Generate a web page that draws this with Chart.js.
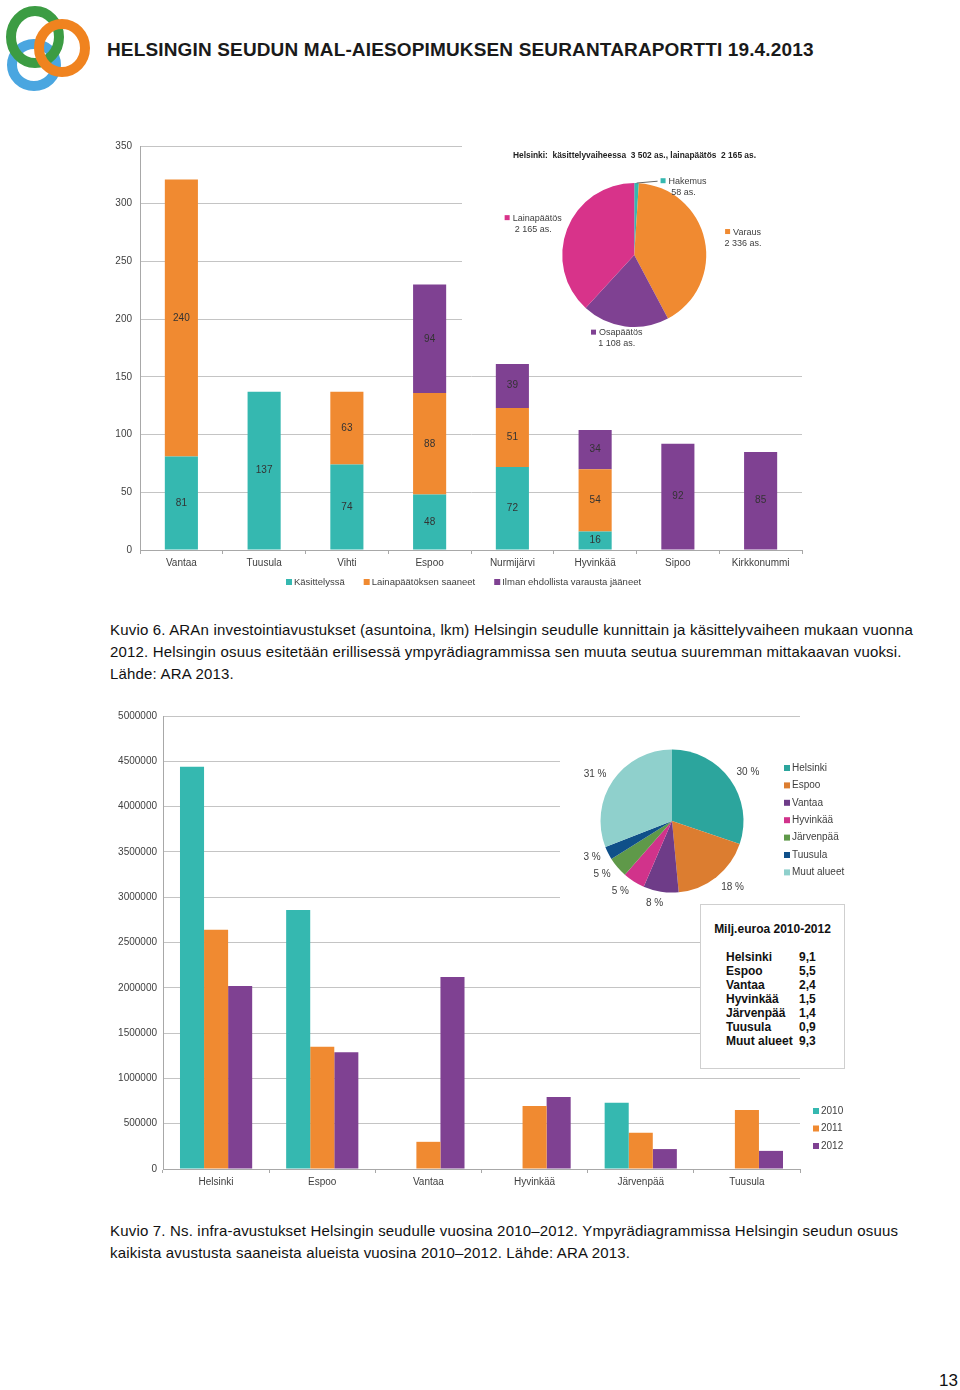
<!DOCTYPE html>
<html lang="fi">
<head>
<meta charset="UTF-8">
<title>MAL-seurantaraportti s. 13</title>
<script src="https://cdn.jsdelivr.net/npm/chart.js"></script>
<style>
  body { margin: 0; background: #fff; font-family: "Liberation Sans", Arial, sans-serif; color: #111; }
  #page { position: relative; width: 960px; height: 1390px; overflow: hidden; }
  .abs { position: absolute; }
  #header { left: 107px; top: 39px; font-size: 19px; letter-spacing: 0.15px; font-weight: bold; white-space: nowrap; color: #1a1a1a; }
  .caption { left: 110px; font-size: 15px; line-height: 22px; letter-spacing: 0.18px; white-space: nowrap; }
  .pieBox { background: #fff; }
  #pieTitle1 { left: 462px; width: 345px; top: 150px; text-align: center; font-size: 8.4px; font-weight: bold; white-space: pre; color: #222; }
  #sumBox { left: 700px; top: 904px; width: 143px; height: 163px; border: 1px solid #cfcfcf; background: #fff; font-weight: bold; font-size: 12px; color: #111; }
  #sumBox .title { text-align: center; margin-top: 17px; margin-bottom: 14px; }
  #sumBox table { margin-left: 25px; border-collapse: collapse; }
  #sumBox td { padding: 0; line-height: 14px; }
  #sumBox td:first-child { width: 73px; }
  #pageNo { left: 939px; top: 1371px; font-size: 17px; }
</style>
</head>
<body>
<div id="page">
  <svg class="abs" style="left:2px;top:2px" width="92" height="92" viewBox="0 0 92 92">
    <ellipse cx="32" cy="63" rx="22" ry="21" fill="none" stroke="#4aa6e0" stroke-width="10"/>
    <ellipse cx="33" cy="35" rx="24" ry="26" fill="none" stroke="#3c9c43" stroke-width="10"/>
    <ellipse cx="60" cy="46" rx="23" ry="24" fill="none" stroke="#f0831f" stroke-width="10"/>
  </svg>
  <div id="header" class="abs">HELSINGIN SEUDUN MAL-AIESOPIMUKSEN SEURANTARAPORTTI 19.4.2013</div>

  <canvas id="bars1" class="abs" style="left:100px;top:132px" width="712" height="466"></canvas>
  <canvas id="pie1" class="abs pieBox" style="left:462px;top:138px" width="345" height="226"></canvas>
  <div id="pieTitle1" class="abs">Helsinki:  käsittelyvaiheessa  3 502 as., lainapäätös  2 165 as.</div>

  <div class="abs caption" style="top:619px">Kuvio 6. ARAn investointiavustukset (asuntoina, lkm) Helsingin seudulle kunnittain ja käsittelyvaiheen mukaan vuonna<br>2012. Helsingin osuus esitetään erillisessä ympyrädiagrammissa sen muuta seutua suuremman mittakaavan vuoksi.<br>Lähde: ARA 2013.</div>

  <canvas id="bars2" class="abs" style="left:112px;top:704px" width="750" height="489"></canvas>
  <canvas id="pie2" class="abs pieBox" style="left:560px;top:730px" width="300" height="182"></canvas>
  <div id="sumBox" class="abs"><div class="title">Milj.euroa 2010-2012</div><table id="sumTable"></table></div>

  <div class="abs caption" style="top:1220px">Kuvio 7. Ns. infra-avustukset Helsingin seudulle vuosina 2010–2012. Ympyrädiagrammissa Helsingin seudun osuus<br>kaikista avustusta saaneista alueista vuosina 2010–2012. Lähde: ARA 2013.</div>

  <div id="pageNo" class="abs">13</div>
</div>

<script>
  // Kuvio 6: asunnot kunnittain (lkm)
  const kunnat6 = ['Vantaa', 'Tuusula', 'Vihti', 'Espoo', 'Nurmijärvi', 'Hyvinkää', 'Sipoo', 'Kirkkonummi'];
  const kasittelyssa = [81, 137, 74, 48, 72, 16, 0, 0];
  const lainapaatoksen = [240, 0, 63, 88, 51, 54, 0, 0];
  const ilmanVarausta = [0, 0, 0, 94, 39, 34, 92, 85];
  const sarjat6 = ['Käsittelyssä', 'Lainapäätöksen saaneet', 'Ilman ehdollista varausta jääneet'];

  // Helsinki piirakka
  const hkiVaiheet = ['Hakemus', 'Varaus', 'Osapäätös', 'Lainapäätös'];
  const hkiAsunnot = [58, 2336, 1108, 2165];

  // Kuvio 7: infra-avustukset euroa
  const kunnat7 = ['Helsinki', 'Espoo', 'Vantaa', 'Hyvinkää', 'Järvenpää', 'Tuusula'];
  const vuodet = ['2010', '2011', '2012'];
  const avustus2010 = [4440000, 2860000, 0, 0, 730000, 0];
  const avustus2011 = [2640000, 1350000, 300000, 695000, 400000, 650000];
  const avustus2012 = [2020000, 1290000, 2120000, 795000, 220000, 200000];

  // osuudet 2010-2012, milj. euroa
  const alueet = ['Helsinki', 'Espoo', 'Vantaa', 'Hyvinkää', 'Järvenpää', 'Tuusula', 'Muut alueet'];
  const miljEuroa = [9.1, 5.5, 2.4, 1.5, 1.4, 0.9, 9.3];

  const teal = '#35b8b0', orange = '#f08a31', purple = '#7f4192', pink = '#d8338a';
  const pieColors2 = ['#2ca59d', '#dc7d30', '#6e3c88', '#d1338b', '#5f9949', '#0f5089', '#8fd0cc'];
  const gridGrey = '#c4c4c4', axisGrey = '#a8a8a8';
  const FONT = '"Liberation Sans", Arial, sans-serif';

  Chart.defaults.font.family = FONT;
  Chart.defaults.color = '#404040';
  Chart.defaults.animation = false;
  Chart.defaults.plugins.tooltip.enabled = false;

  const fmtSpace = v => String(v).replace(/\B(?=(\d{3})+(?!\d))/g, ' ');

  // numbers in the middle of each stacked piece
  const barLabels = {
    id: 'barLabels',
    afterDatasetsDraw(chart) {
      const ctx = chart.ctx;
      ctx.save();
      ctx.font = '10px ' + FONT;
      ctx.fillStyle = '#333';
      ctx.textAlign = 'center';
      ctx.textBaseline = 'middle';
      chart.data.datasets.forEach((ds, i) => {
        chart.getDatasetMeta(i).data.forEach((bar, j) => {
          if (!ds.data[j]) return;
          ctx.fillText(ds.data[j], bar.x, (bar.y + bar.base) / 2);
        });
      });
      ctx.restore();
    }
  };

  // labels round a pie, placed from each arc's mid angle
  const pieLabels = {
    id: 'pieLabels',
    afterDatasetsDraw(chart, args, opts) {
      const ctx = chart.ctx;
      const ds = chart.data.datasets[0];
      const total = ds.data.reduce((a, b) => a + b, 0);
      ctx.save();
      ctx.font = opts.font;
      ctx.textBaseline = 'middle';
      chart.getDatasetMeta(0).data.forEach((arc, i) => {
        const mid = (arc.startAngle + arc.endAngle) / 2;
        const a = mid + (opts.shift ? opts.shift[i] : 0) * Math.PI / 180;
        const f = Array.isArray(opts.factor) ? opts.factor[i] : opts.factor;
        const x = arc.x + Math.cos(a) * arc.outerRadius * f;
        const y = arc.y + Math.sin(a) * arc.outerRadius * f;
        const lines = opts.lines(chart.data.labels[i], ds.data[i], total);
        const y0 = y - (lines.length - 1) * opts.lineGap / 2;
        lines.forEach((t, k) => {
          const ly = y0 + k * opts.lineGap;
          const tw = ctx.measureText(t).width;
          if (k === 0 && opts.marker) {
            const w = tw + 8;
            const left = x - w / 2;
            ctx.fillStyle = ds.backgroundColor[i];
            ctx.fillRect(left, ly - 3, 5, 5);
            ctx.fillStyle = '#404040';
            ctx.textAlign = 'left';
            ctx.fillText(t, left + 8, ly);
            if (opts.leader && opts.leader[i]) {
              ctx.strokeStyle = '#666';
              ctx.lineWidth = 1;
              ctx.beginPath();
              ctx.moveTo(arc.x + Math.cos(mid) * arc.outerRadius, arc.y + Math.sin(mid) * arc.outerRadius);
              ctx.lineTo(left - 3, ly);
              ctx.stroke();
            }
          } else {
            ctx.fillStyle = '#404040';
            ctx.textAlign = 'center';
            ctx.fillText(t, x, ly);
          }
        });
      });
      ctx.restore();
    }
  };

  // small square legend, in a column or in a row
  const squareLegend = {
    id: 'squareLegend',
    afterDraw(chart, args, opts) {
      const ctx = chart.ctx;
      ctx.save();
      ctx.font = opts.size + 'px ' + FONT;
      ctx.textBaseline = 'middle';
      ctx.textAlign = 'left';
      let x = opts.x, y = opts.y;
      opts.items.forEach(it => {
        ctx.fillStyle = it.color;
        ctx.fillRect(x, y - 3, 6, 6);
        ctx.fillStyle = '#404040';
        ctx.fillText(it.text, x + 8, y);
        if (opts.row) x += 8 + ctx.measureText(it.text).width + opts.gap;
        else y += opts.step;
      });
      ctx.restore();
    }
  };

  new Chart(document.getElementById('bars1'), {
    type: 'bar',
    data: {
      labels: kunnat6,
      datasets: [
        { label: sarjat6[0], data: kasittelyssa, backgroundColor: teal },
        { label: sarjat6[1], data: lainapaatoksen, backgroundColor: orange },
        { label: sarjat6[2], data: ilmanVarausta, backgroundColor: purple }
      ]
    },
    options: {
      responsive: false,
      barPercentage: 0.8,
      categoryPercentage: 0.5,
      layout: { padding: { top: 6, right: 10, bottom: 26, left: 0 } },
      scales: {
        x: {
          stacked: true,
          grid: { drawOnChartArea: false, tickLength: 4, color: axisGrey },
          border: { color: axisGrey },
          ticks: { font: { size: 10 }, padding: 3 },
          afterFit: s => { s.height = 22; }
        },
        y: {
          stacked: true,
          min: 0, max: 350,
          ticks: { stepSize: 50, font: { size: 10 }, padding: 8 },
          grid: { color: gridGrey, drawTicks: false },
          border: { color: axisGrey },
          afterFit: s => { s.width = 40; }
        }
      },
      plugins: {
        legend: { display: false },
        squareLegend: {
          row: true, x: 186, y: 450, gap: 19, size: 9.5,
          items: sarjat6.map((s, i) => ({ text: s, color: [teal, orange, purple][i] }))
        }
      }
    },
    plugins: [barLabels, squareLegend]
  });

  new Chart(document.getElementById('pie1'), {
    type: 'pie',
    data: {
      labels: hkiVaiheet,
      datasets: [{ data: hkiAsunnot, backgroundColor: [teal, orange, purple, pink], borderWidth: 0 }]
    },
    options: {
      responsive: false,
      layout: { padding: { left: 100, right: 100.5, top: 45, bottom: 37 } },
      plugins: {
        legend: { display: false },
        pieLabels: {
          font: '9px ' + FONT,
          lineGap: 11,
          marker: true,
          factor: [1.17, 1.53, 1.18, 1.47],
          shift: [34, 3, 4.6, -4],
          leader: [true, false, false, false],
          lines: (name, v) => [name, fmtSpace(v) + ' as.']
        }
      }
    },
    plugins: [pieLabels]
  });

  new Chart(document.getElementById('bars2'), {
    type: 'bar',
    data: {
      labels: kunnat7,
      datasets: [
        { label: vuodet[0], data: avustus2010, backgroundColor: teal },
        { label: vuodet[1], data: avustus2011, backgroundColor: orange },
        { label: vuodet[2], data: avustus2012, backgroundColor: purple }
      ]
    },
    options: {
      responsive: false,
      barPercentage: 1.0,
      categoryPercentage: 0.68,
      layout: { padding: { top: 6, right: 62, bottom: 0, left: 0 } },
      scales: {
        x: {
          grid: { drawOnChartArea: false, tickLength: 4, color: axisGrey },
          border: { color: axisGrey },
          ticks: { font: { size: 10 }, padding: 3 },
          afterFit: s => { s.height = 24; }
        },
        y: {
          min: 0, max: 5000000,
          ticks: { stepSize: 500000, font: { size: 10 }, padding: 6, callback: v => String(v) },
          grid: { color: gridGrey, drawTicks: false },
          border: { color: axisGrey },
          afterFit: s => { s.width = 51; }
        }
      },
      plugins: {
        legend: { display: false },
        squareLegend: {
          x: 701, y: 407, step: 17.5, size: 10,
          items: vuodet.map((v, i) => ({ text: v, color: [teal, orange, purple][i] }))
        }
      }
    },
    plugins: [squareLegend]
  });

  new Chart(document.getElementById('pie2'), {
    type: 'pie',
    data: {
      labels: alueet,
      datasets: [{ data: miljEuroa, backgroundColor: pieColors2, borderWidth: 0 }]
    },
    options: {
      responsive: false,
      layout: { padding: { left: 40.5, right: 116.5, top: 19.5, bottom: 19.5 } },
      plugins: {
        legend: { display: false },
        pieLabels: {
          font: '10px ' + FONT,
          lineGap: 11,
          factor: [1.26, 1.26, 1.17, 1.22, 1.23, 1.23, 1.26],
          shift: [3, -4, 3, 4, 3, 2, -3],
          lines: (name, v, total) => [Math.round(v / total * 100) + ' %']
        },
        squareLegend: {
          x: 224, y: 38, step: 17.4, size: 10,
          items: alueet.map((a, i) => ({ text: a, color: pieColors2[i] }))
        }
      }
    },
    plugins: [pieLabels, squareLegend]
  });

  // summary table from the same numbers
  document.getElementById('sumTable').innerHTML = alueet.map((a, i) =>
    `<tr><td>${a}</td><td>${miljEuroa[i].toFixed(1).replace('.', ',')}</td></tr>`).join('');
</script>
</body>
</html>
